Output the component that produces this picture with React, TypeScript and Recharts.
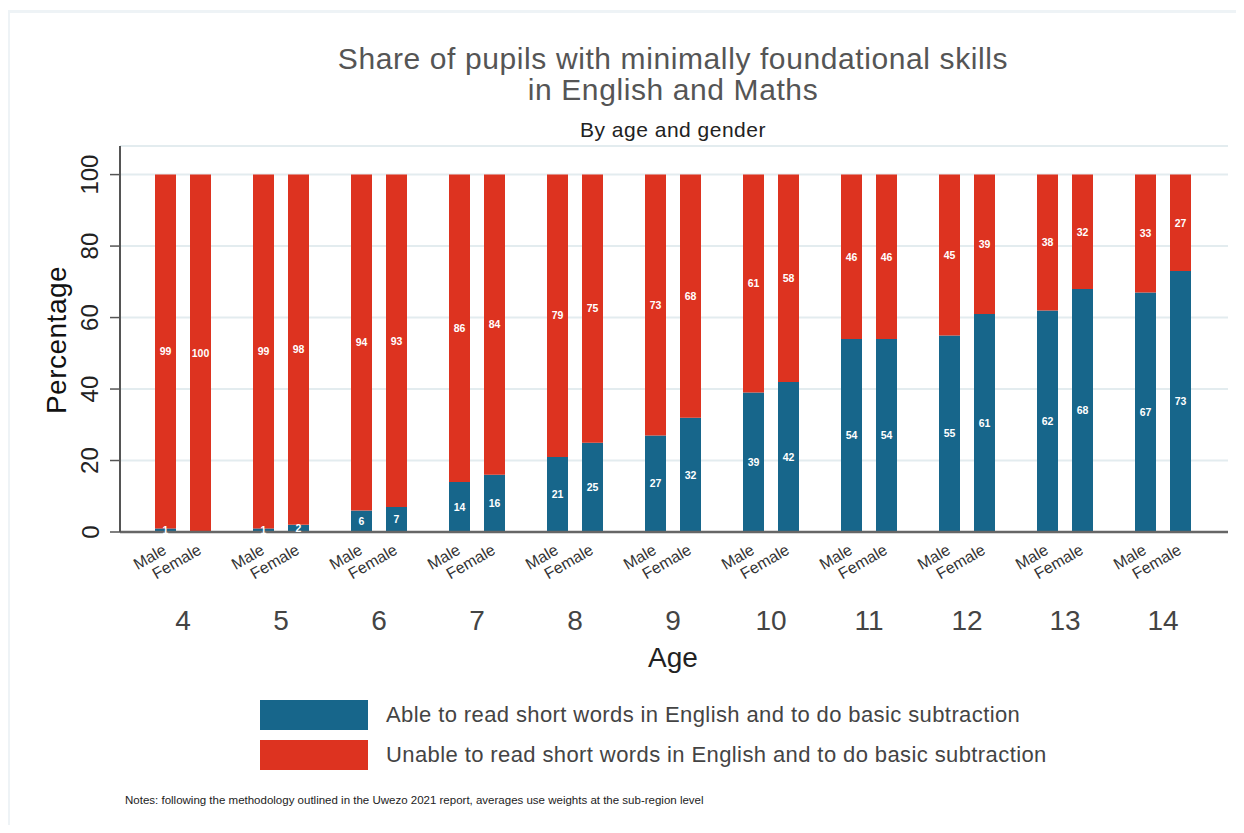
import React from 'react';
import { BarChart, Bar, XAxis, YAxis, CartesianGrid, LabelList } from 'recharts';

const ages = ['4', '5', '6', '7', '8', '9', '10', '11', '12', '13', '14'];
const maleAble = [1, 1, 6, 14, 21, 27, 39, 54, 55, 62, 67];
const maleUnable = [99, 99, 94, 86, 79, 73, 61, 46, 45, 38, 33];
const femaleAble = [0, 2, 7, 16, 25, 32, 42, 54, 61, 68, 73];
const femaleUnable = [100, 98, 93, 84, 75, 68, 58, 46, 39, 32, 27];
const yTicks = [0, 20, 40, 60, 80, 100];
const genders = ['Male', 'Female'];
const seriesNames = [
  'Able to read short words in English and to do basic subtraction',
  'Unable to read short words in English and to do basic subtraction',
];

const BLUE = '#17668b';
const RED = '#dd3320';
const FONT = '"Liberation Sans", Arial, Helvetica, sans-serif';

const data = ages.map((a, i) => ({
  age: a,
  maleAble: maleAble[i],
  maleUnable: maleUnable[i],
  femaleAble: femaleAble[i],
  femaleUnable: femaleUnable[i],
}));

const BAR_SIZE = 21;
const BAR_GAP = 14;
const HALF = (BAR_SIZE + BAR_GAP) / 2;

const XTick = (props: any) => {
  const { x, y, payload } = props;
  const mx = x - HALF + 2;
  const fx = x + HALF + 2;
  const ly = y + 21;
  return (
    <g fontFamily={FONT}>
      <text x={mx} y={ly} textAnchor="end" fontSize={16} fill="#333" transform={`rotate(-30, ${mx}, ${ly})`}>
        {genders[0]}
      </text>
      <text x={fx} y={ly} textAnchor="end" fontSize={16} fill="#333" transform={`rotate(-30, ${fx}, ${ly})`}>
        {genders[1]}
      </text>
      <text x={x} y={y + 98} textAnchor="middle" fontSize={28} fill="#444">
        {payload.value}
      </text>
    </g>
  );
};

const YTick = (props: any) => {
  const { x, y, payload } = props;
  const cx = x - 20;
  return (
    <text
      x={cx}
      y={y}
      textAnchor="middle"
      dominantBaseline="central"
      fontSize={24}
      fill="#222"
      fontFamily={FONT}
      transform={`rotate(-90, ${cx}, ${y})`}
    >
      {payload.value}
    </text>
  );
};

const labelProps = { position: 'center' as const, fill: '#fff', fontSize: 10.5, fontWeight: 600, fontFamily: FONT };

export default function App() {
  return (
    <div style={{ position: 'relative', width: 1228, height: 817, fontFamily: FONT, background: '#fff' }}>
      <div
        style={{
          position: 'absolute',
          left: -1,
          top: 2,
          width: 1240,
          height: 830,
          borderTop: '3px solid #eef3f6',
          borderLeft: '3px solid #eef3f6',
          boxSizing: 'border-box',
        }}
      />
      <div style={{ position: 'absolute', left: 0, width: 1330, top: 35, textAlign: 'center', fontSize: 30, letterSpacing: 0.6, color: '#555', lineHeight: '31px' }}>
        Share of pupils with minimally foundational skills
        <br />
        in English and Maths
      </div>
      <div style={{ position: 'absolute', left: 0, width: 1330, top: 110, textAlign: 'center', fontSize: 21, letterSpacing: 0.5, color: '#222', lineHeight: '24px' }}>
        By age and gender
      </div>
      <div
        style={{
          position: 'absolute',
          left: 49 - 100,
          top: 332 - 16,
          width: 200,
          height: 32,
          lineHeight: '32px',
          textAlign: 'center',
          fontSize: 28,
          letterSpacing: 0.5,
          color: '#111',
          transform: 'rotate(-90deg)',
        }}
      >
        Percentage
      </div>
      <BarChart
        width={1228}
        height={817}
        data={data}
        margin={{ top: 138, right: 8, bottom: 173, left: 52 }}
        barGap={BAR_GAP}
        style={{ position: 'absolute', left: 0, top: 0 }}
      >
        <CartesianGrid vertical={false} stroke="#e3ecef" strokeWidth={2} />
        <XAxis
          dataKey="age"
          height={120}
          padding={{ left: 14, right: 16 }}
          axisLine={{ stroke: '#666', strokeWidth: 2.5 }}
          tickLine={false}
          tickSize={0}
          tickMargin={0}
          interval={0}
          tick={<XTick />}
        />
        <YAxis
          width={60}
          domain={[0, 108]}
          ticks={yTicks}
          allowDataOverflow
          axisLine={{ stroke: '#555', strokeWidth: 2 }}
          tickLine={{ stroke: '#555', strokeWidth: 1.5 }}
          tickSize={10}
          tickMargin={0}
          tick={<YTick />}
        />
        <Bar dataKey="maleAble" stackId="m" fill={BLUE} barSize={BAR_SIZE} isAnimationActive={false}>
          <LabelList dataKey="maleAble" {...labelProps} />
        </Bar>
        <Bar dataKey="maleUnable" stackId="m" fill={RED} barSize={BAR_SIZE} isAnimationActive={false}>
          <LabelList dataKey="maleUnable" {...labelProps} />
        </Bar>
        <Bar dataKey="femaleAble" stackId="f" fill={BLUE} barSize={BAR_SIZE} isAnimationActive={false}>
          <LabelList dataKey="femaleAble" {...labelProps} />
        </Bar>
        <Bar dataKey="femaleUnable" stackId="f" fill={RED} barSize={BAR_SIZE} isAnimationActive={false}>
          <LabelList dataKey="femaleUnable" {...labelProps} />
        </Bar>
      </BarChart>
      <div style={{ position: 'absolute', left: 0, width: 1330, top: 635, textAlign: 'center', fontSize: 28, color: '#222', lineHeight: '30px' }}>
        Age
      </div>
      {seriesNames.map((name, i) => (
        <div key={name} style={{ position: 'absolute', left: 252, top: 692 + i * 40, height: 30, display: 'flex', alignItems: 'center' }}>
          <div style={{ width: 108, height: 30, background: i === 0 ? BLUE : RED }} />
          <div style={{ marginLeft: 18, fontSize: 22, letterSpacing: 0.4, color: '#444', whiteSpace: 'nowrap' }}>{name}</div>
        </div>
      ))}
      <div style={{ position: 'absolute', left: 117, top: 786, fontSize: 11.5, color: '#222', whiteSpace: 'nowrap' }}>
        Notes: following the methodology outlined in the Uwezo 2021 report, averages use weights at the sub-region level
      </div>
    </div>
  );
}
